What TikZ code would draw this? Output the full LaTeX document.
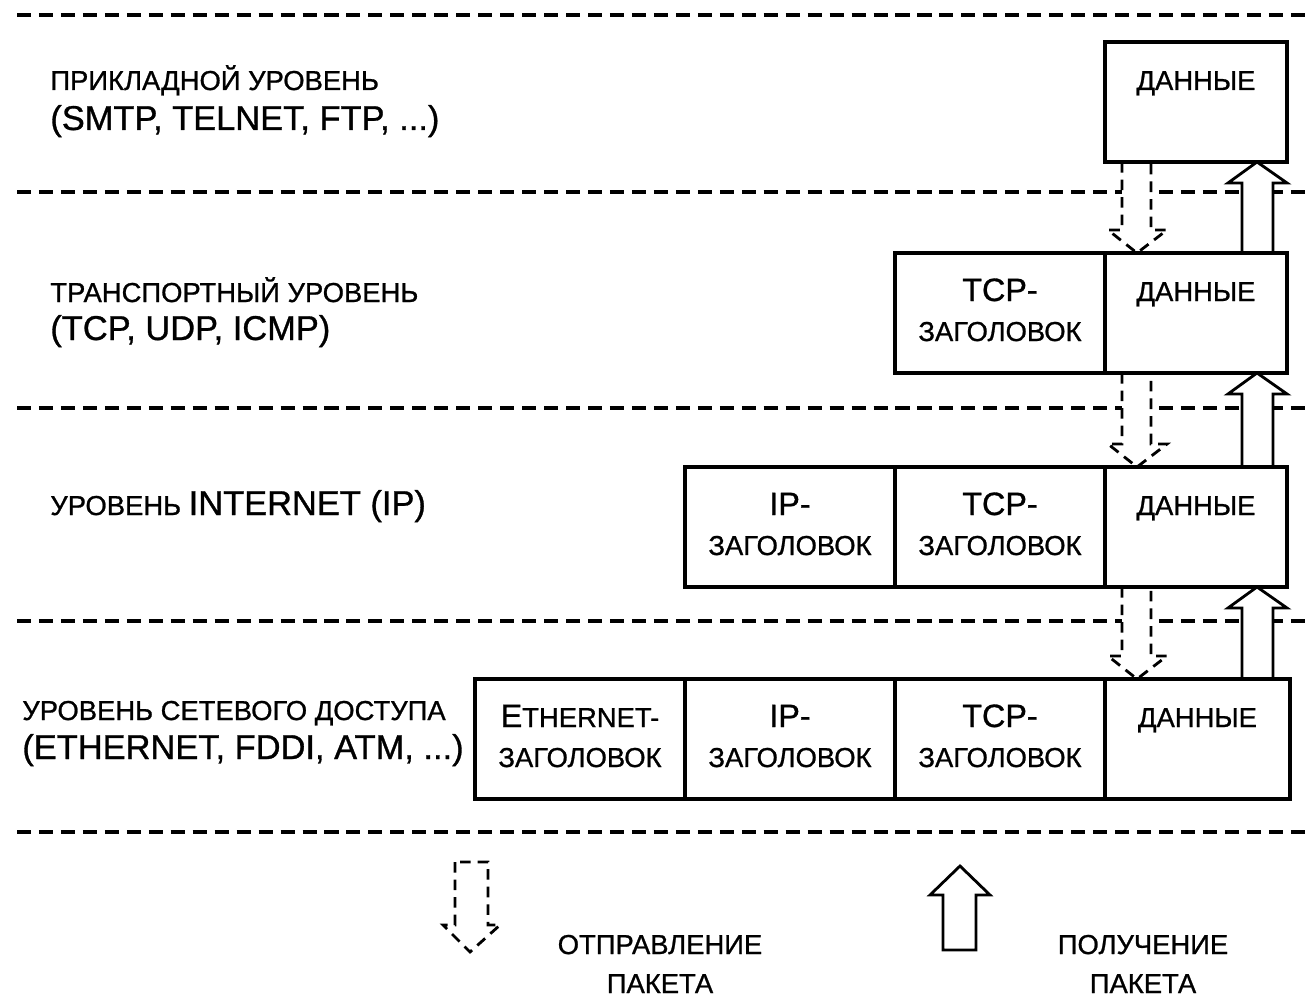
\documentclass[tikz,border=0pt]{standalone}
\usepackage{fontspec}
\setmainfont{Liberation Sans}[FakeBold=0.9]
\usetikzlibrary{calc,backgrounds}
\newcommand\fsA{\fontsize{15.6}{18}\selectfont}
\newcommand\fsB{\fontsize{19.6}{23}\selectfont}
\newcommand\fsC{\fontsize{18.4}{21}\selectfont}
\newcommand\fsD{\fontsize{15.6}{18}\selectfont}
\newcommand\downarr[2]{\draw[darrow] ($(#1.south west)+(17,0)$) -- ($(#2.north west)+(17,-23)$) -- ($(#2.north west)+(3,-23)$) -- ($(#2.north west)+(32,0)$) -- ($(#2.north west)+(62,-23)$) -- ($(#2.north west)+(46,-23)$) -- ($(#1.south west)+(46,0)$);}
\newcommand\uparr[2]{\draw[uarrow] ($(#2.north west)+(137,0)$) -- ($(#1.south west)+(137,21)$) -- ($(#1.south west)+(123,21)$) -- ($(#1.south west)+(152,0)$) -- ($(#1.south west)+(182,21)$) -- ($(#1.south west)+(168,21)$) -- ($(#2.north west)+(168,0)$);}
\begin{document}
\begin{tikzpicture}[x=0.02cm,y=-0.02cm,
  cell/.style={draw, line width=1.8pt, inner sep=0, outer sep=0, minimum height=2.4cm, anchor=north west},
  hdr/.style={cell, minimum width=4.2cm},
  dat/.style={cell, minimum width=3.64cm},
  level/.style={line width=1.8pt, dash pattern=on 8pt off 4.5pt},
  txt/.style={inner sep=0, anchor=base},
  lbl/.style={inner sep=0, anchor=base west},
  darrow/.style={line width=1.6pt, dash pattern=on 6pt off 4pt, fill=white},
  uarrow/.style={line width=1.6pt, fill=white},
]
\useasboundingbox (0,0) rectangle (1311,1000);

% packet cells
\node[dat] (d1) at (1105,42) {};
\node[hdr] (t2) at (895,253) {};
\node[dat] (d2) at (1105,253) {};
\node[hdr] (i3) at (685,467) {};
\node[hdr] (t3) at (895,467) {};
\node[dat] (d3) at (1105,467) {};
\node[hdr] (e4) at (475,679) {};
\node[hdr] (i4) at (685,679) {};
\node[hdr] (t4) at (895,679) {};
\node[dat, minimum width=3.7cm] (d4) at (1105,679) {};

\begin{pgfonlayer}{background}
\foreach \yy in {15,192,408,621,832}
  \draw[level] (17,\yy) -- (1311,\yy);
\downarr{d1}{d2}
\downarr{d2}{d3}
\downarr{d3}{d4}
\uparr{d1}{d2}
\uparr{d2}{d3}
\uparr{d3}{d4}
\end{pgfonlayer}

% cell texts
\node[txt] at ($(d1.north)+(0,48)$) {\fsD ДАННЫЕ};

\node[txt] at ($(t2.north)+(0,48)$) {\fsC TCP-};
\node[txt] at ($(t2.north)+(0,88)$) {\fsD ЗАГОЛОВОК};
\node[txt] at ($(d2.north)+(0,48)$) {\fsD ДАННЫЕ};

\node[txt] at ($(i3.north)+(0,48)$) {\fsC IP-};
\node[txt] at ($(i3.north)+(0,88)$) {\fsD ЗАГОЛОВОК};
\node[txt] at ($(t3.north)+(0,48)$) {\fsC TCP-};
\node[txt] at ($(t3.north)+(0,88)$) {\fsD ЗАГОЛОВОК};
\node[txt] at ($(d3.north)+(0,48)$) {\fsD ДАННЫЕ};

\node[txt] at ($(e4.north)+(0,48)$) {\fsC E\fsD THERNET-};
\node[txt] at ($(e4.north)+(0,88)$) {\fsD ЗАГОЛОВОК};
\node[txt] at ($(i4.north)+(0,48)$) {\fsC IP-};
\node[txt] at ($(i4.north)+(0,88)$) {\fsD ЗАГОЛОВОК};
\node[txt] at ($(t4.north)+(0,48)$) {\fsC TCP-};
\node[txt] at ($(t4.north)+(0,88)$) {\fsD ЗАГОЛОВОК};
\node[txt] at ($(d4.north)+(0,48)$) {\fsD ДАННЫЕ};

% level labels
\node[lbl] (l1a) at (50,90) {\fsA ПРИКЛАДНОЙ УРОВЕНЬ};
\node[lbl] (l1b) at (50,130) {\fsB (SMTP, TELNET, FTP, ...)};
\node[lbl] (l2a) at (50,302) {\fsA ТРАНСПОРТНЫЙ УРОВЕНЬ};
\node[lbl] (l2b) at (50,340) {\fsB (TCP, UDP, ICMP)};
\node[lbl] (l3a) at (50,515) {\fsA УРОВЕНЬ \fsB INTERNET (IP)};
\node[lbl] (l4a) at (22,720) {\fsA УРОВЕНЬ СЕТЕВОГО ДОСТУПА};
\node[lbl] (l4b) at (22,759) {\fsB (ETHERNET, FDDI, ATM, ...)};

% legend
\draw[darrow] (455,862) -- (455,925) -- (443,925) -- (470,952) -- (500,925) -- (488,925) -- (488,862) -- cycle;
\node[txt] (send1) at (660,954) {\fsD ОТПРАВЛЕНИЕ};
\node[txt] (send2) at (660,993) {\fsD ПАКЕТА};
\draw[uarrow] (943,950) -- (943,895) -- (930,895) -- (960,866) -- (990,895) -- (976,895) -- (976,950) -- cycle;
\node[txt] (recv1) at (1143,954) {\fsD ПОЛУЧЕНИЕ};
\node[txt] (recv2) at (1143,993) {\fsD ПАКЕТА};
\end{tikzpicture}
\end{document}
